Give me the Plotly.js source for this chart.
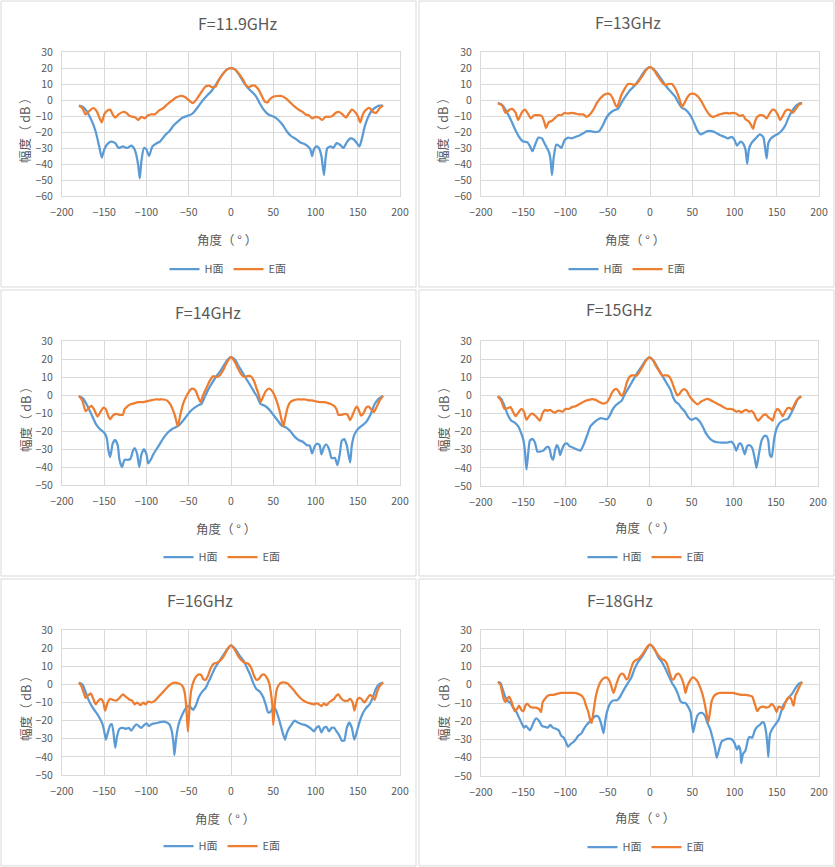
<!DOCTYPE html>
<html>
<head>
<meta charset="utf-8">
<script src="https://cdn.plot.ly/plotly-3.0.1.min.js"></script>
<style>
  html, body { margin: 0; padding: 0; background: #ffffff; }
  #chart { width: 835px; height: 867px; }
</style>
</head>
<body>
<div id="chart"></div>
<script>
// [angle in degrees, amplitude in dB]
const h119 = [[-180,-3.5],[-176,-4],[-172,-6],[-168,-9.5],[-164,-14],[-160,-20],[-156,-29],[-153,-36],[-150,-31],[-147,-28],[-142,-26],[-137,-27],[-133,-30],[-128,-29],[-123,-30],[-118,-28.5],[-114,-31],[-110,-40],[-108,-49],[-106,-38],[-103,-30],[-100,-31],[-97,-35],[-93,-29],[-88,-27],[-84,-26],[-78,-22],[-73,-19.5],[-68,-16],[-62,-13],[-57,-11],[-52,-10],[-47,-9],[-43,-7],[-38,-3.5],[-33,0],[-28,3],[-24,5],[-20,8],[-15,12],[-10,16],[-5,19],[0,20],[5,19],[10,15.5],[15,11],[20,7.5],[25,5],[30,2],[34,-2],[38,-5.5],[42,-8],[46,-9.5],[51,-10.5],[56,-12.5],[61,-15.5],[66,-19.5],[71,-22.5],[77,-24.5],[82,-26.5],[87,-27.5],[91,-29],[94,-31],[96,-35],[98,-31],[101,-29],[104,-30],[107,-35],[110,-47],[112,-36],[114,-30],[118,-29],[121,-30],[125,-27],[129,-28],[133,-30],[137,-26.5],[141,-24],[145,-24.5],[149,-27],[152,-29],[155,-24],[158,-17],[162,-11],[166,-7],[170,-5],[175,-3.5],[180,-3.5]];
const e119 = [[-180,-3.5],[-176,-5],[-172,-9],[-167,-6.5],[-163,-5],[-159,-7],[-155,-12],[-153,-14],[-150,-9],[-146,-6.5],[-143,-6],[-140,-9],[-137,-11],[-133,-9],[-128,-7.5],[-124,-8],[-120,-10],[-116,-10.5],[-113,-11],[-110,-12.5],[-106,-10.5],[-102,-11.5],[-98,-9.5],[-94,-9],[-90,-9],[-85,-6.5],[-80,-5],[-75,-2.5],[-70,-0.5],[-65,1.5],[-60,2.5],[-55,2],[-50,0],[-45,-2],[-40,1],[-35,5],[-30,8.5],[-26,9],[-22,8],[-18,8.5],[-15,12],[-10,16],[-5,19],[0,20],[5,19],[10,16],[15,12],[18,9],[21,8],[25,9],[28,9],[32,7],[36,3],[40,-1],[43,-1.5],[46,0.5],[50,2],[55,2.5],[60,2.5],[65,1],[70,-1.5],[75,-4],[80,-6],[85,-7.5],[88,-9],[92,-9.5],[96,-11.5],[100,-10.5],[104,-11],[108,-12.5],[112,-10.5],[116,-10.5],[120,-10],[124,-8],[128,-7.5],[132,-9],[136,-11],[140,-8],[143,-6],[146,-7],[150,-10],[153,-14],[156,-9],[160,-6],[164,-5],[168,-7.5],[172,-8],[176,-5],[180,-3.5]];

const h13 = [[-180,-2],[-175,-3],[-170,-7],[-165,-12],[-160,-18],[-155,-23],[-150,-26],[-145,-26.5],[-142,-29],[-139,-32],[-136,-28],[-132,-23.5],[-128,-24],[-124,-28],[-120,-32],[-118,-36],[-116,-47],[-114,-36],[-111,-28],[-108,-28.5],[-105,-30],[-101,-25],[-97,-23.5],[-93,-24],[-88,-23],[-83,-22],[-78,-20.5],[-75,-19.5],[-70,-19.5],[-65,-20],[-60,-19.5],[-56,-16],[-52,-11.5],[-48,-8.5],[-43,-6.5],[-38,-5.5],[-33,-1],[-28,3],[-24,6],[-20,8],[-16,10.5],[-12,13.5],[-8,17],[-4,19.5],[0,20.5],[4,19.5],[8,17],[12,14],[16,11],[20,8],[25,5],[30,2],[34,-2],[38,-5],[42,-6],[47,-9],[52,-14],[56,-19],[60,-21.5],[64,-20.5],[68,-19.5],[73,-19.5],[78,-20.5],[83,-22],[88,-23],[92,-24],[97,-23],[100,-25],[103,-28.5],[107,-26],[110,-27],[113,-31],[115,-40],[117,-31],[120,-27],[125,-24],[130,-21.5],[134,-23],[136,-29],[138,-36.5],[140,-27],[143,-24],[147,-22.5],[152,-21],[156,-19],[160,-16],[164,-11],[168,-7],[173,-3.5],[177,-2],[180,-2]];
const e13 = [[-180,-2],[-175,-3.5],[-171,-8],[-166,-6],[-163,-5.5],[-159,-8],[-156,-12.5],[-152,-8],[-148,-6],[-145,-8],[-141,-11.5],[-137,-9.5],[-132,-9.5],[-128,-10],[-125,-14],[-123,-17.5],[-120,-14],[-116,-13],[-112,-11],[-109,-9.5],[-105,-9.5],[-101,-8],[-97,-8.5],[-92,-8],[-88,-8.5],[-84,-9],[-79,-9],[-75,-10.5],[-71,-9],[-67,-6],[-63,-2],[-59,1],[-55,3],[-51,4],[-47,3.5],[-44,1],[-41,-3],[-39,-4.5],[-37,-2],[-34,3],[-30,7],[-26,10],[-22,10],[-19,9.5],[-16,10],[-13,12],[-9,15],[-5,18.5],[0,20.5],[5,18.5],[9,15],[13,12],[16,10],[19,9.5],[22,10],[26,10],[30,7],[34,2],[37,-3],[38,-4.5],[41,-1.5],[44,1.5],[47,3.5],[50,4],[54,3.5],[57,2],[61,-1],[65,-5],[70,-9],[74,-10.5],[78,-10],[82,-9],[86,-8.5],[90,-8],[94,-8.5],[98,-8],[102,-8.5],[106,-10],[110,-9.5],[113,-12],[117,-13.5],[120,-16],[122,-18],[124,-14],[127,-10.5],[131,-9.5],[135,-10],[138,-11.5],[142,-8],[145,-6],[148,-6.5],[151,-9],[154,-12.5],[157,-10],[160,-7],[163,-6],[166,-6.5],[169,-8],[172,-6],[176,-3],[180,-2]];

const h14 = [[-180,-0.5],[-175,-2],[-170,-6],[-165,-11],[-160,-16],[-155,-19],[-150,-21],[-147,-24],[-145,-31],[-143,-34.5],[-140,-27],[-137,-25],[-134,-28],[-132,-36],[-129,-40],[-126,-36],[-122,-36],[-119,-35.5],[-116,-31],[-114,-29.5],[-111,-33],[-108.5,-40],[-106,-33],[-103,-30],[-100,-33],[-98,-38],[-95,-36],[-92,-33],[-88,-30],[-84,-27],[-80,-24],[-75,-21],[-70,-19],[-66,-18],[-62,-17],[-58,-15],[-53,-12],[-48,-9],[-43,-7],[-38,-5.5],[-35,-5],[-31,-1],[-27,3],[-22,7],[-18,10],[-13,13],[-9,16],[-5,19],[0,21],[5,19.5],[9,16],[13,13],[18,9],[22,6],[27,2],[31,-1],[35,-5],[40,-6],[45,-8],[50,-11],[55,-14],[60,-17],[65,-18],[70,-20],[75,-23],[80,-25],[85,-26],[90,-28],[93,-28],[96,-32.5],[99,-28.5],[102,-27],[105,-28],[107,-33],[110,-29],[113,-27.5],[116,-30],[119,-35],[123,-35],[126,-39],[129,-32],[131,-25.5],[134,-24.5],[137,-28],[139,-33],[141,-37.5],[143,-28],[146,-22],[150,-19],[155,-17],[160,-15],[165,-11],[170,-5],[175,-2],[180,-0.5]];
const e14 = [[-180,-0.5],[-176,-3],[-172,-9],[-168,-7],[-165,-6],[-162,-8],[-158,-12],[-154,-9],[-151,-7],[-148,-8],[-145,-12],[-143,-13.5],[-140,-11.5],[-136,-10.5],[-132,-11],[-128,-11],[-126,-8],[-122,-6],[-118,-5],[-114,-4.5],[-110,-4],[-105,-4],[-100,-3.5],[-95,-3],[-90,-2.5],[-85,-2.5],[-80,-2.5],[-76,-3],[-72,-5],[-69,-8],[-66,-12],[-63,-17.5],[-60,-11],[-56,-4],[-52,0],[-48,3],[-45,3.5],[-42,2.5],[-39,-1],[-36,-4],[-33,0],[-29,4],[-25,8],[-21,10.5],[-17,10],[-13,11],[-9,14],[-5,18],[0,21],[5,18],[9,14],[13,11],[16,10],[19,10.5],[23,10.5],[27,8],[30,4],[33,0],[35,-4],[38,-1],[41,2],[45,3.5],[49,2],[53,-2],[57,-8],[60,-14],[62,-17.5],[64,-13],[67,-7],[70,-4],[74,-3],[78,-2.5],[83,-2.5],[88,-2.5],[92,-3],[96,-3],[100,-3.5],[105,-4],[110,-4],[115,-4.5],[118,-5],[122,-6],[125,-8],[127,-11],[131,-11],[135,-10.5],[138,-11],[141,-14],[144,-11],[147,-7.5],[149,-6.5],[151,-8],[154,-11.5],[157,-10],[160,-7],[163,-6.5],[166,-8],[169,-9.5],[172,-7],[176,-3],[180,-0.5]];

const h15 = [[-180,-0.5],[-176,-2],[-172,-6],[-168,-11],[-164,-14],[-160,-15],[-156,-17],[-153,-20],[-150,-24],[-148,-30],[-146,-41],[-144,-32],[-142,-25],[-139,-24],[-136,-26],[-133,-31],[-130,-31],[-126,-30.5],[-122,-28.5],[-119,-29],[-116.5,-34],[-114.5,-35.5],[-112,-30],[-110,-27.5],[-108,-29],[-106,-33],[-104,-30],[-101,-27],[-98,-26.5],[-95,-28],[-90,-29],[-85,-30],[-82,-30.5],[-78,-27],[-74,-22],[-70,-17],[-66,-15],[-62,-13.5],[-58,-12.5],[-54,-13],[-50,-13],[-47,-11],[-44,-8],[-40,-5.5],[-36,-4],[-33,-3],[-30,0],[-25,4],[-20,8],[-15,12],[-10,15.5],[-5,19],[0,21],[5,19],[10,15],[15,11],[20,7],[25,3],[28,-1],[31,-3.5],[35,-5],[38,-7],[42,-9],[46,-12],[50,-13.5],[55,-12.5],[59,-14],[63,-17],[67,-21],[72,-24],[77,-25.5],[83,-26],[88,-26],[93,-26],[97,-25.5],[100,-27],[103,-30.5],[106,-27],[108,-26.5],[110,-28],[113,-32.5],[116,-28],[119,-27.5],[122,-29],[125,-35],[127,-40],[130,-32],[133,-25],[136,-22.5],[139,-22.5],[141,-25],[143,-33],[145,-34],[148,-24],[151,-18],[155,-15],[160,-13.5],[164,-13],[168,-10],[172,-6],[176,-2],[180,-0.5]];
const e15 = [[-180,-0.5],[-176,-3],[-172,-7.5],[-168,-7],[-165,-6.5],[-162,-9],[-159,-11.5],[-155,-9],[-152,-7.5],[-149,-9],[-146,-13.5],[-143,-11.5],[-140,-10],[-136,-11],[-133,-12.5],[-130,-14],[-127,-10],[-124,-8],[-121,-8.5],[-118,-8],[-115,-9],[-112,-9.5],[-109,-8.5],[-106,-8.5],[-103,-9],[-100,-7.5],[-96,-7.5],[-92,-6.5],[-88,-6],[-84,-5],[-80,-4],[-76,-3],[-72,-2.5],[-68,-2],[-64,-2.5],[-60,-3.5],[-55,-4.5],[-51,-4],[-48,-2],[-45,1],[-42,3],[-39,3.5],[-37,2.5],[-34,0],[-32,0],[-30,2],[-27,7],[-24,10],[-21,11],[-18,11],[-15,11],[-12,13],[-8,16],[-4,19.5],[0,21],[4,19.5],[8,16],[12,13],[15,11],[18,11],[21,11],[24,10],[27,7],[30,3],[33,0],[35,0.5],[38,2.5],[41,3.5],[44,2.5],[47,0],[50,-2],[53,-3.5],[57,-5],[61,-3.5],[65,-2.5],[68,-2],[72,-2.5],[76,-3.5],[80,-4.5],[84,-5.5],[88,-6.5],[92,-7.5],[96,-7.5],[100,-8],[103,-9],[106,-8.5],[109,-9.5],[112,-8.5],[115,-8],[118,-9],[121,-8.5],[124,-10],[127,-13],[129,-14],[132,-12.5],[135,-11],[138,-10.5],[141,-12],[144,-13],[146,-14],[149,-9.5],[152,-7.5],[155,-9],[158,-11.5],[161,-9],[164,-7],[167,-7],[169,-8],[172,-5],[176,-2],[180,-0.5]];

const h16 = [[-180,1],[-176,0],[-173,-3],[-170,-7],[-166,-11],[-162,-14],[-158,-16.5],[-155,-19],[-152,-22],[-150,-26],[-148,-30.5],[-146,-27],[-143,-22.5],[-141,-22],[-139,-27],[-137,-35],[-135,-29],[-132,-24.5],[-128,-24],[-124,-24.5],[-121,-24],[-118,-25.5],[-115,-23.5],[-112,-22],[-109,-23],[-106,-24],[-103,-22.5],[-100,-21.5],[-97,-23],[-94,-22],[-90,-21.5],[-85,-21],[-80,-20.5],[-76,-21],[-73,-22],[-70,-26],[-68,-33],[-67,-39],[-65,-30],[-62,-22],[-58,-17],[-54,-13.5],[-51,-12],[-48,-12.5],[-45,-14],[-42,-12],[-38,-7],[-34,-4],[-30,-2],[-27,1],[-23,5],[-19,9],[-15,12],[-10,15.5],[-5,19],[0,21.5],[5,19.5],[10,16],[15,13],[19,9],[23,5],[27,0],[30,-2.5],[34,-4],[38,-7],[41,-11],[44,-15.5],[47,-15],[50,-12.5],[53,-14],[56,-18],[59,-23],[62,-28],[64,-30.5],[66,-27],[69,-24],[72,-22],[75,-20],[79,-21],[84,-22],[88,-22.5],[92,-23.5],[95,-24.5],[98,-26],[101,-24],[104,-23],[107,-26.5],[110,-24],[113,-23.5],[116,-26],[119,-24],[122,-24],[125,-26],[128,-28],[131,-31],[134,-31],[137,-24],[140,-21],[143,-24],[146,-30.5],[149,-26],[152,-21],[156,-16],[160,-13],[164,-11],[168,-7],[171,-3],[175,0],[180,1]];
const e16 = [[-180,1],[-177,-1],[-174,-5],[-172,-7.5],[-169,-6],[-166,-5],[-163,-8],[-160,-11],[-157,-9],[-154,-8],[-151,-10],[-149,-14.5],[-146,-10],[-143,-8],[-140,-8.5],[-136,-9],[-132,-7.5],[-128,-5.5],[-124,-7],[-120,-8.5],[-117,-9],[-114,-11],[-111,-10],[-107,-11.5],[-104,-10],[-101,-11],[-98,-9.5],[-94,-10],[-90,-9],[-86,-7],[-82,-5],[-78,-3],[-74,-1],[-70,0.5],[-66,1],[-62,0.5],[-58,-0.5],[-55,-4],[-53,-12],[-51,-26],[-49,-12],[-47,-3],[-44,2],[-41,4.5],[-38,5.5],[-35,5],[-33,3],[-30,2.5],[-27,5],[-24,9],[-20,11.5],[-16,12],[-12,13.5],[-8,16],[-4,19.5],[0,21.5],[4,19.5],[8,16],[12,13.5],[16,12],[20,11.5],[24,9],[27,5],[30,2.5],[33,3],[36,5],[39,5.5],[42,4],[45,1],[47,-4],[49,-12],[50,-22.5],[52,-10],[54,-3],[57,0],[60,1],[64,1],[67,0.5],[70,-1],[74,-3],[78,-5.5],[82,-7.5],[86,-9],[90,-10],[94,-10.5],[98,-11],[101,-10.5],[104,-11],[107,-12],[110,-10.5],[113,-11.5],[116,-10],[119,-9],[122,-8],[125,-6],[127,-5.5],[130,-7.5],[134,-9],[138,-9],[141,-8],[144,-10],[146,-14.5],[148,-11],[150,-8],[153,-7.5],[156,-9],[158,-10],[161,-8],[164,-6],[167,-6.5],[170,-8.5],[173,-4],[176,-1],[180,1]];

const h18 = [[-180,1.5],[-177,1],[-174,-3],[-171,-7],[-168,-9],[-165,-10],[-162,-12.5],[-158,-15],[-155,-18],[-152,-21],[-149,-23.5],[-147,-22.5],[-144,-24],[-142,-25],[-139,-22],[-136,-19],[-134,-18.5],[-131,-20],[-128,-22.5],[-125,-23],[-121,-23.5],[-118,-22],[-115,-23.5],[-112,-24],[-108,-25],[-105,-28],[-102,-29],[-99,-32],[-97,-34],[-94,-32.5],[-91,-31.5],[-88,-30],[-85,-28],[-81,-26.5],[-78,-24],[-75,-22],[-72,-20.5],[-70,-19.5],[-67,-18],[-64,-17],[-61,-17.5],[-58,-21],[-55,-26.5],[-53,-20],[-51,-15],[-48,-11],[-45,-9],[-42,-8.5],[-39,-8.5],[-36,-7],[-33,-4.5],[-30,-2],[-26,1],[-22,4],[-18,9],[-14,12.5],[-10,15],[-6,18],[-3,20.5],[0,22],[3,21],[6,19],[10,15],[14,12.5],[18,9],[22,5],[26,1],[30,-2],[33,-5],[36,-9],[39,-10],[42,-10],[45,-12],[48,-15],[51,-26],[53,-22],[56,-17],[59,-15.5],[62,-15.5],[65,-17],[68,-21],[71,-24],[74,-29],[77,-35],[79,-40],[82,-35],[85,-31],[89,-30],[93,-29.5],[97,-30],[100,-32],[103,-35.5],[105,-33.5],[107,-36],[108,-43],[110,-38],[113,-36],[116,-30],[118,-28.5],[121,-29],[124,-25],[127,-23],[130,-22],[133,-20.5],[135,-21],[137,-25],[139,-33],[140,-39.5],[142,-27],[145,-24],[148,-22],[152,-19.5],[155,-15],[158,-11],[161,-9],[164,-7],[168,-5],[172,-2],[176,0.5],[180,1.5]];
const e18 = [[-180,1.5],[-177,0],[-175,-4],[-173,-8],[-171,-9.5],[-169,-8],[-167,-6.5],[-165,-8],[-162,-12],[-160,-14.5],[-157,-13],[-155,-11.5],[-152,-14],[-150,-14.5],[-147,-11],[-145,-10.5],[-142,-12],[-139,-12.5],[-135,-12.5],[-131,-13.5],[-129,-15],[-127,-9.5],[-124,-7.5],[-121,-6],[-118,-5.5],[-114,-5.5],[-110,-5],[-105,-4.5],[-100,-4.5],[-95,-4.5],[-90,-4.5],[-85,-5],[-81,-6],[-78,-8],[-76,-11],[-73,-15],[-71,-19],[-69,-21],[-67,-15],[-64,-6],[-61,-1],[-58,2],[-55,3.5],[-52,4],[-49,3],[-47,1],[-45,-2],[-43,-4.5],[-40,0],[-37,4],[-34,6],[-31,5.5],[-28,3],[-26,3.5],[-23,8],[-20,12],[-17,13.5],[-14,14],[-11,15.5],[-7,18],[-3,21],[0,22],[3,21],[7,18],[11,15.5],[14,14],[17,13.5],[20,11.5],[23,7],[26,3],[28,3],[31,5.5],[34,6],[37,4],[40,0],[42,-4.5],[44,-1],[47,2],[50,4],[53,3.5],[56,2],[59,-1],[62,-5],[65,-11],[67,-16],[69,-20.5],[71,-15],[73,-9],[76,-6],[79,-5],[83,-4.5],[88,-4.5],[93,-4.5],[98,-4.5],[103,-5],[108,-5.5],[113,-5.5],[118,-6],[121,-6.5],[123,-9],[125,-12],[127,-14.5],[130,-12.5],[134,-12],[138,-12.5],[141,-12],[144,-10.5],[147,-12],[150,-15],[152,-12],[155,-12.5],[157,-13.5],[160,-10],[163,-7.5],[166,-7],[168,-9],[170,-11.5],[172,-6],[175,-3],[178,0],[180,1.5]];

const PANEL_TITLES = ["F=11.9GHz", "F=13GHz", "F=14GHz", "F=15GHz", "F=16GHz", "F=18GHz"];
const SERIES_NAMES = ["H面", "E面"];
const Y_MINIMUMS = [-60, -60, -50, -50, -50, -50];
const X_TITLE = "角度（ ° ）";
const Y_TITLE = "幅度（ dB ）";

const THEME = {
  blue: "#5B9BD5",
  orange: "#ED7D31",
  text: "#595959",
  grid: "#D9D9D9",
  frame: "#D9D9D9",
  font: "\"Noto Sans CJK SC\", \"Noto Sans\", sans-serif",
};

const W = 835;
const H = 867;

// pixel geometry of each panel: plot box, outer frame, text anchors
const GEOMETRY = [
  { box: [62, 400, 52, 196], frame: [1, 416, 1, 287], title: [238, 23], xt: [227, 239], yt: [25, 127], legend: [228, 269] },
  { box: [481, 819, 52, 196], frame: [419, 834, 1, 287], title: [628, 22], xt: [635, 239], yt: [443, 127], legend: [627, 269] },
  { box: [62, 400, 341, 485], frame: [1, 416, 290, 576], title: [208, 312], xt: [226, 528], yt: [25, 416], legend: [222, 557] },
  { box: [481, 818, 341, 486], frame: [419, 834, 290, 576], title: [619, 309], xt: [645, 527], yt: [443, 416], legend: [646, 557] },
  { box: [62, 400, 630, 775], frame: [1, 416, 579, 866], title: [200, 600], xt: [225, 818], yt: [25, 705], legend: [222, 846] },
  { box: [481, 819, 630, 776], frame: [419, 834, 579, 866], title: [620, 600], xt: [645, 817], yt: [443, 705], legend: [646, 847] },
];

const SERIES = [[h119, e119], [h13, e13], [h14, e14], [h15, e15], [h16, e16], [h18, e18]];

const px = (x) => x / W;
const py = (y) => 1 - y / H;

function seriesTrace(points, name, color, idx) {
  const suffix = idx === 0 ? "" : String(idx + 1);
  return {
    type: "scatter",
    mode: "lines",
    x: points.map((p) => p[0]),
    y: points.map((p) => p[1]),
    name,
    xaxis: "x" + suffix,
    yaxis: "y" + suffix,
    legend: "legend" + suffix,
    showlegend: true,
    line: { color, width: 2.25, shape: "spline", smoothing: 0.55 },
    hoverinfo: "skip",
  };
}

function axisBase() {
  return {
    showgrid: true,
    gridcolor: THEME.grid,
    gridwidth: 1,
    zeroline: false,
    showline: true,
    linecolor: THEME.grid,
    linewidth: 1,
    mirror: true,
    ticks: "",
    tickfont: { family: THEME.font, size: 10.5, color: THEME.text },
    fixedrange: true,
  };
}

const traces = [];
const layout = {
  width: W,
  height: H,
  margin: { l: 0, r: 0, t: 0, b: 0 },
  paper_bgcolor: "#ffffff",
  plot_bgcolor: "#ffffff",
  font: { family: THEME.font, color: THEME.text },
  showlegend: true,
  shapes: [],
  annotations: [],
};

GEOMETRY.forEach((g, i) => {
  const suffix = i === 0 ? "" : String(i + 1);
  const [hPts, ePts] = SERIES[i];
  traces.push(seriesTrace(hPts, SERIES_NAMES[0], THEME.blue, i));
  traces.push(seriesTrace(ePts, SERIES_NAMES[1], THEME.orange, i));

  layout["xaxis" + suffix] = {
    ...axisBase(),
    domain: [px(g.box[0]), px(g.box[1])],
    anchor: "y" + suffix,
    range: [-200, 200],
    tick0: 0,
    dtick: 50,
    ticklabelstandoff: 6,
  };
  layout["yaxis" + suffix] = {
    ...axisBase(),
    domain: [py(g.box[3]), py(g.box[2])],
    anchor: "x" + suffix,
    range: [Y_MINIMUMS[i], 30],
    tick0: 0,
    dtick: 10,
    ticklabelstandoff: 6,
  };

  layout["legend" + suffix] = {
    orientation: "h",
    x: px(g.legend[0]),
    y: py(g.legend[1]),
    xanchor: "center",
    yanchor: "middle",
    xref: "paper",
    yref: "paper",
    bgcolor: "rgba(0,0,0,0)",
    font: { family: THEME.font, size: 11, color: THEME.text },
    itemwidth: 30,
    tracegroupgap: 0,
  };

  layout.shapes.push({
    type: "rect",
    xref: "paper",
    yref: "paper",
    x0: px(g.frame[0]),
    x1: px(g.frame[1]),
    y0: py(g.frame[3]),
    y1: py(g.frame[2]),
    line: { color: THEME.frame, width: 1 },
    fillcolor: "rgba(0,0,0,0)",
    layer: "below",
  });

  layout.annotations.push(
    {
      text: PANEL_TITLES[i],
      xref: "paper", yref: "paper",
      x: px(g.title[0]), y: py(g.title[1]),
      xanchor: "center", yanchor: "middle",
      showarrow: false,
      font: { family: THEME.font, size: 16, color: THEME.text },
    },
    {
      text: X_TITLE,
      xref: "paper", yref: "paper",
      x: px(g.xt[0]), y: py(g.xt[1]),
      xanchor: "center", yanchor: "middle",
      showarrow: false,
      font: { family: THEME.font, size: 12.5, color: THEME.text },
    },
    {
      text: Y_TITLE,
      xref: "paper", yref: "paper",
      x: px(g.yt[0]), y: py(g.yt[1]),
      xanchor: "center", yanchor: "middle",
      textangle: -90,
      showarrow: false,
      font: { family: THEME.font, size: 12.5, color: THEME.text },
    }
  );
});

Plotly.newPlot("chart", traces, layout, { displayModeBar: false, staticPlot: true });
</script>
</body>
</html>
